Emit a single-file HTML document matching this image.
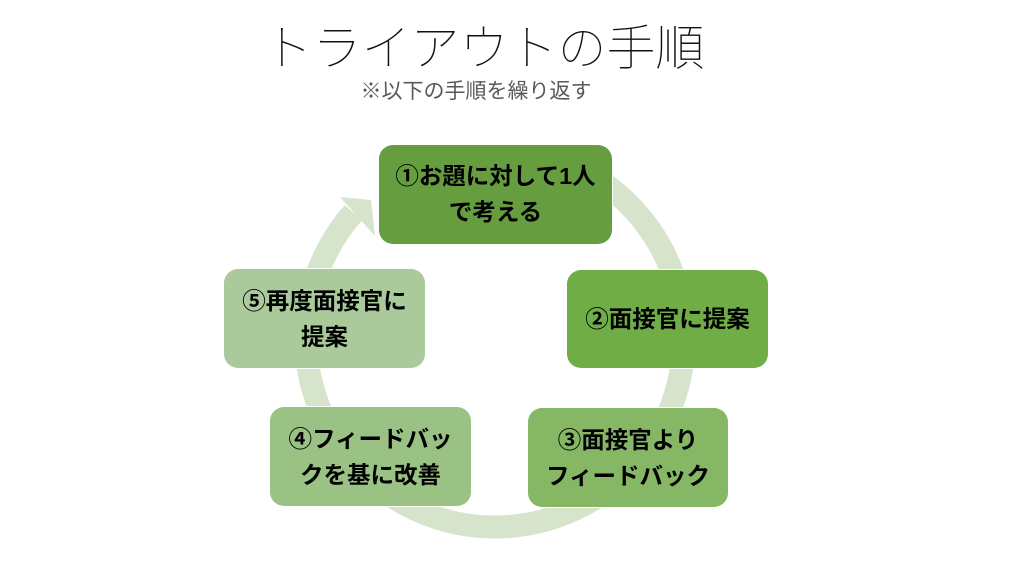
<!DOCTYPE html>
<html>
<head>
<meta charset="utf-8">
<style>
  html, body { margin:0; padding:0; background:#ffffff; }
  body { width:1024px; height:566px; position:relative; overflow:hidden;
         font-family:"Liberation Sans","Noto Sans CJK JP",sans-serif; }
  .title { position:absolute; left:0; width:968px; top:16px; text-align:center;
           font-family:"Liberation Sans","Noto Sans CJK JP Thin","Noto Sans CJK JP Light","Noto Sans CJK JP",sans-serif;
           font-weight:100; font-size:49px; line-height:66px; color:#111; white-space:nowrap; }
  .sub { position:absolute; left:0; width:952px; top:79px; text-align:center;
         font-family:"Liberation Sans","Noto Sans CJK JP",sans-serif;
         font-weight:400; font-size:21px; line-height:26px; color:#595959; white-space:nowrap; }
  .box { position:absolute; border-radius:14px; display:flex; align-items:center; justify-content:center;
         text-align:center; font-family:"Liberation Sans","Noto Sans CJK JP",sans-serif;
         font-weight:700; font-size:23.5px; line-height:36px; color:#000; white-space:nowrap;
         box-shadow:0 0 0 1px #ffffff; }
  svg { position:absolute; left:0; top:0; }
</style>
</head>
<body>
<div class="title">トライアウトの手順</div>
<div class="sub">※以下の手順を繰り返す</div>

<svg width="1024" height="566" viewBox="0 0 1024 566">
  <path d="M 603.4 183.2 A 189 189 0 1 1 353.4 212.8" fill="none" stroke="#d6e4cc" stroke-width="23"/>
  <polygon points="340,197 371,200 375,236" fill="#d6e4cc"/>
</svg>

<div class="box" style="left:379px;top:145px;width:233px;height:99px;background:#669d3e;"><div style="margin-top:-2px">①お題に対して1人<br>で考える</div></div>
<div class="box" style="left:567px;top:270px;width:201px;height:98px;background:#70ad47;">②面接官に提案</div>
<div class="box" style="left:528px;top:408px;width:200px;height:99px;background:#85b765;">③面接官より<br>フィードバック</div>
<div class="box" style="left:270px;top:407px;width:201px;height:99px;background:#9bc285;">④フィードバッ<br>クを基に改善</div>
<div class="box" style="left:224px;top:269px;width:201px;height:99px;background:#abca9c;">⑤再度面接官に<br>提案</div>
</body>
</html>
